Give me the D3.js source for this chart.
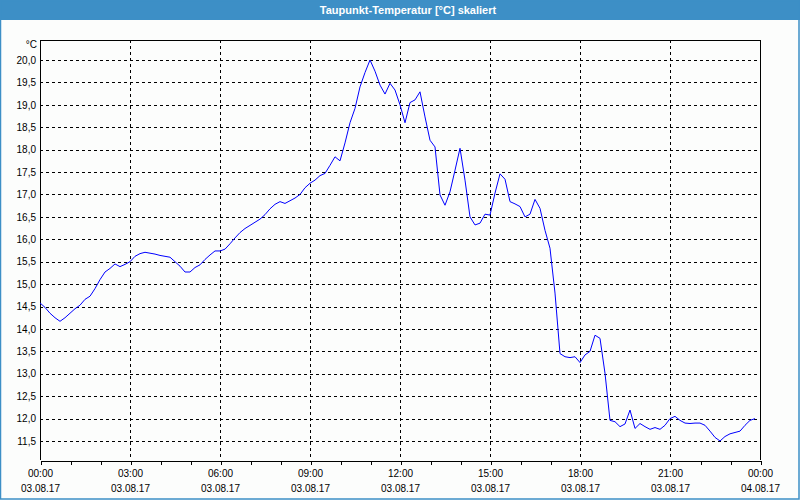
<!DOCTYPE html>
<html>
<head>
<meta charset="utf-8">
<script src="https://cdn.jsdelivr.net/npm/d3@7"></script>
<style>
  html, body { margin: 0; padding: 0; background: #fcfdfc; }
  svg text { font-family: "Liberation Sans", Arial, sans-serif; }
</style>
</head>
<body>
<svg id="chart"></svg>
<script>
// sample times (03.08.17, every 10 min) and dew point values in °C
const times = [
  "00:00","00:10","00:20","00:30","00:40","00:50",
  "01:00","01:10","01:20","01:30","01:40","01:50",
  "02:00","02:10","02:20","02:30","02:40","02:50",
  "03:00","03:10","03:20","03:30","03:40","03:50",
  "04:00","04:10","04:20","04:30","04:40","04:50",
  "05:00","05:10","05:20","05:30","05:40","05:50",
  "06:00","06:10","06:20","06:30","06:40","06:50",
  "07:00","07:10","07:20","07:30","07:40","07:50",
  "08:00","08:10","08:20","08:30","08:40","08:50",
  "09:00","09:10","09:20","09:30","09:40","09:50",
  "10:00","10:10","10:20","10:30","10:40","10:50",
  "11:00","11:10","11:20","11:30","11:40","11:50",
  "12:00","12:10","12:20","12:30","12:40","12:50",
  "13:00","13:10","13:20","13:30","13:40","13:50",
  "14:00","14:10","14:20","14:30","14:40","14:50",
  "15:00","15:10","15:20","15:30","15:40","15:50",
  "16:00","16:10","16:20","16:30","16:40","16:50",
  "17:00","17:10","17:20","17:30","17:40","17:50",
  "18:00","18:10","18:20","18:30","18:40","18:50",
  "19:00","19:10","19:20","19:30","19:40","19:50",
  "20:00","20:10","20:20","20:30","20:40","20:50",
  "21:00","21:10","21:20","21:30","21:40","21:50",
  "22:00","22:10","22:20","22:30","22:40","22:50",
  "23:00","23:10","23:20","23:30","23:40","23:50"
];
const dewPoint = [
  14.58, 14.48, 14.35, 14.25, 14.17, 14.25,
  14.35, 14.45, 14.53, 14.66, 14.73, 14.90,
  15.10, 15.27, 15.35, 15.45, 15.39, 15.44,
  15.50, 15.62, 15.68, 15.71, 15.69, 15.67,
  15.64, 15.62, 15.60, 15.50, 15.40, 15.27,
  15.27, 15.37, 15.43, 15.55, 15.65, 15.74,
  15.74, 15.78, 15.90, 16.03, 16.15, 16.24,
  16.31, 16.38, 16.45, 16.55, 16.68, 16.78,
  16.84, 16.80, 16.86, 16.92, 17.00, 17.15,
  17.25, 17.32, 17.42, 17.47, 17.65, 17.84,
  17.75, 18.15, 18.60, 18.92, 19.40, 19.72,
  20.00, 19.75, 19.44, 19.24, 19.48, 19.33,
  19.00, 18.60, 19.05, 19.11, 19.29, 18.73,
  18.21, 18.06, 16.99, 16.76, 17.06, 17.54,
  18.03, 17.32, 16.50, 16.32, 16.36, 16.56,
  16.54, 17.03, 17.46, 17.34, 16.84, 16.79,
  16.73, 16.50, 16.56, 16.89, 16.69, 16.20,
  15.80, 14.80, 13.45, 13.38, 13.36, 13.38,
  13.25, 13.42, 13.50, 13.86, 13.79, 13.01,
  11.96, 11.93, 11.82, 11.88, 12.19, 11.78,
  11.89, 11.82, 11.76, 11.80, 11.76, 11.85,
  12.00, 12.05, 11.96, 11.90, 11.89, 11.90,
  11.90, 11.85, 11.72, 11.58, 11.50, 11.60,
  11.66, 11.69, 11.72, 11.85, 11.96, 12.00
];
const yTicks = [11.5, 12, 12.5, 13, 13.5, 14, 14.5, 15, 15.5, 16, 16.5, 17, 17.5, 18, 18.5, 19, 19.5, 20];
const titleText = "Taupunkt-Temperatur [°C] skaliert";
const unitText = "°C";

const W = 800, H = 500;
const M = { top: 40, right: 40, bottom: 40, left: 40 };

const parse = d3.timeParse("%Y-%m-%d %H:%M");
const data = times.map((t, i) => ({ date: parse("2017-08-03 " + t), value: dewPoint[i] }));

const svg = d3.select("#chart")
  .attr("width", W)
  .attr("height", H);

svg.append("rect")
  .attr("width", W)
  .attr("height", H)
  .attr("fill", "#fcfdfc");

// title bar
svg.append("rect")
  .attr("width", W)
  .attr("height", 20)
  .attr("fill", "#3d8fc6");

svg.append("text")
  .attr("x", 408)
  .attr("y", 13.5)
  .attr("text-anchor", "middle")
  .attr("fill", "#fff")
  .attr("font-size", 11)
  .attr("font-weight", "bold")
  .text(titleText);

// frame border
svg.append("rect")
  .attr("x", 0.5)
  .attr("y", 0.5)
  .attr("width", W - 1.5)
  .attr("height", H - 1.5)
  .attr("fill", "none")
  .attr("stroke", "#3d8fc6")
  .attr("stroke-width", 1.5);

const x = d3.scaleTime()
  .domain([parse("2017-08-03 00:00"), parse("2017-08-04 00:00")])
  .range([M.left, W - M.right]);

const y = d3.scaleLinear()
  .domain([11.076, 20.446])
  .range([H - M.bottom, M.top]);

const fmt = d3.formatLocale({ decimal: ",", thousands: ".", grouping: [3], currency: ["", "€"] }).format(".1f");

// grid
const grid = svg.append("g")
  .attr("stroke", "#000")
  .attr("stroke-dasharray", "3,3")
  .attr("shape-rendering", "crispEdges");

grid.selectAll(".hgrid")
  .data(yTicks)
  .join("line")
  .attr("class", "hgrid")
  .attr("x1", M.left)
  .attr("x2", W - M.right)
  .attr("y1", d => Math.round(y(d)) + 0.5)
  .attr("y2", d => Math.round(y(d)) + 0.5);

const vTicks = x.ticks(d3.timeHour.every(3)).filter(d => d > x.domain()[0] && d < x.domain()[1]);
grid.selectAll(".vgrid")
  .data(vTicks)
  .join("line")
  .attr("class", "vgrid")
  .attr("x1", d => Math.round(x(d)) + 0.5)
  .attr("x2", d => Math.round(x(d)) + 0.5)
  .attr("y1", M.top)
  .attr("y2", H - M.bottom);

// frame
svg.append("path")
  .attr("d", `M${M.left + 0.5},${H - M.bottom}V${M.top + 0.5}H${W - M.right + 0.5}V${H - M.bottom}`)
  .attr("fill", "none")
  .attr("stroke", "#000")
  .attr("shape-rendering", "crispEdges");

// x axis, minor hourly ticks
svg.append("g")
  .attr("transform", `translate(0.5,${H - M.bottom + 0.5})`)
  .call(d3.axisBottom(x).ticks(d3.timeHour.every(1)).tickSize(4).tickSizeOuter(0).tickFormat(""))
  .call(g => g.select(".domain").attr("stroke", "#000").attr("shape-rendering", "crispEdges"))
  .call(g => g.selectAll(".tick line").attr("stroke", "#000").attr("shape-rendering", "crispEdges"));

// x labels
const xLab = svg.append("g")
  .attr("transform", `translate(0,${H - M.bottom})`)
  .call(d3.axisBottom(x).ticks(d3.timeHour.every(3)).tickSize(0).tickFormat(""))
  .call(g => g.select(".domain").remove());

xLab.selectAll(".tick").each(function(d) {
  const t = d3.select(this).append("text")
    .attr("fill", "#000")
    .attr("font-size", 10)
    .attr("text-anchor", "middle");
  t.append("tspan").attr("x", 0).attr("y", 17).text(d3.timeFormat("%H:%M")(d));
  t.append("tspan").attr("x", 0).attr("y", 32).text(d3.timeFormat("%d.%m.%y")(d));
});

// y labels
svg.append("g")
  .attr("transform", `translate(${M.left},0)`)
  .call(d3.axisLeft(y).tickValues(yTicks).tickSize(0).tickPadding(4).tickFormat(fmt))
  .call(g => g.select(".domain").remove())
  .call(g => g.selectAll("text").attr("fill", "#000").attr("font-size", 10)
    .attr("font-family", "'Liberation Sans', Arial, sans-serif"));

svg.append("text")
  .attr("x", M.left - 3)
  .attr("y", 48)
  .attr("text-anchor", "end")
  .attr("font-size", 10)
  .attr("fill", "#000")
  .text(unitText);

// line
const line = d3.line()
  .x(d => x(d.date))
  .y(d => y(d.value));

svg.append("path")
  .datum(data)
  .attr("fill", "none")
  .attr("stroke", "#0000ff")
  .attr("stroke-width", 1)
  .attr("d", line);
</script>
</body>
</html>
